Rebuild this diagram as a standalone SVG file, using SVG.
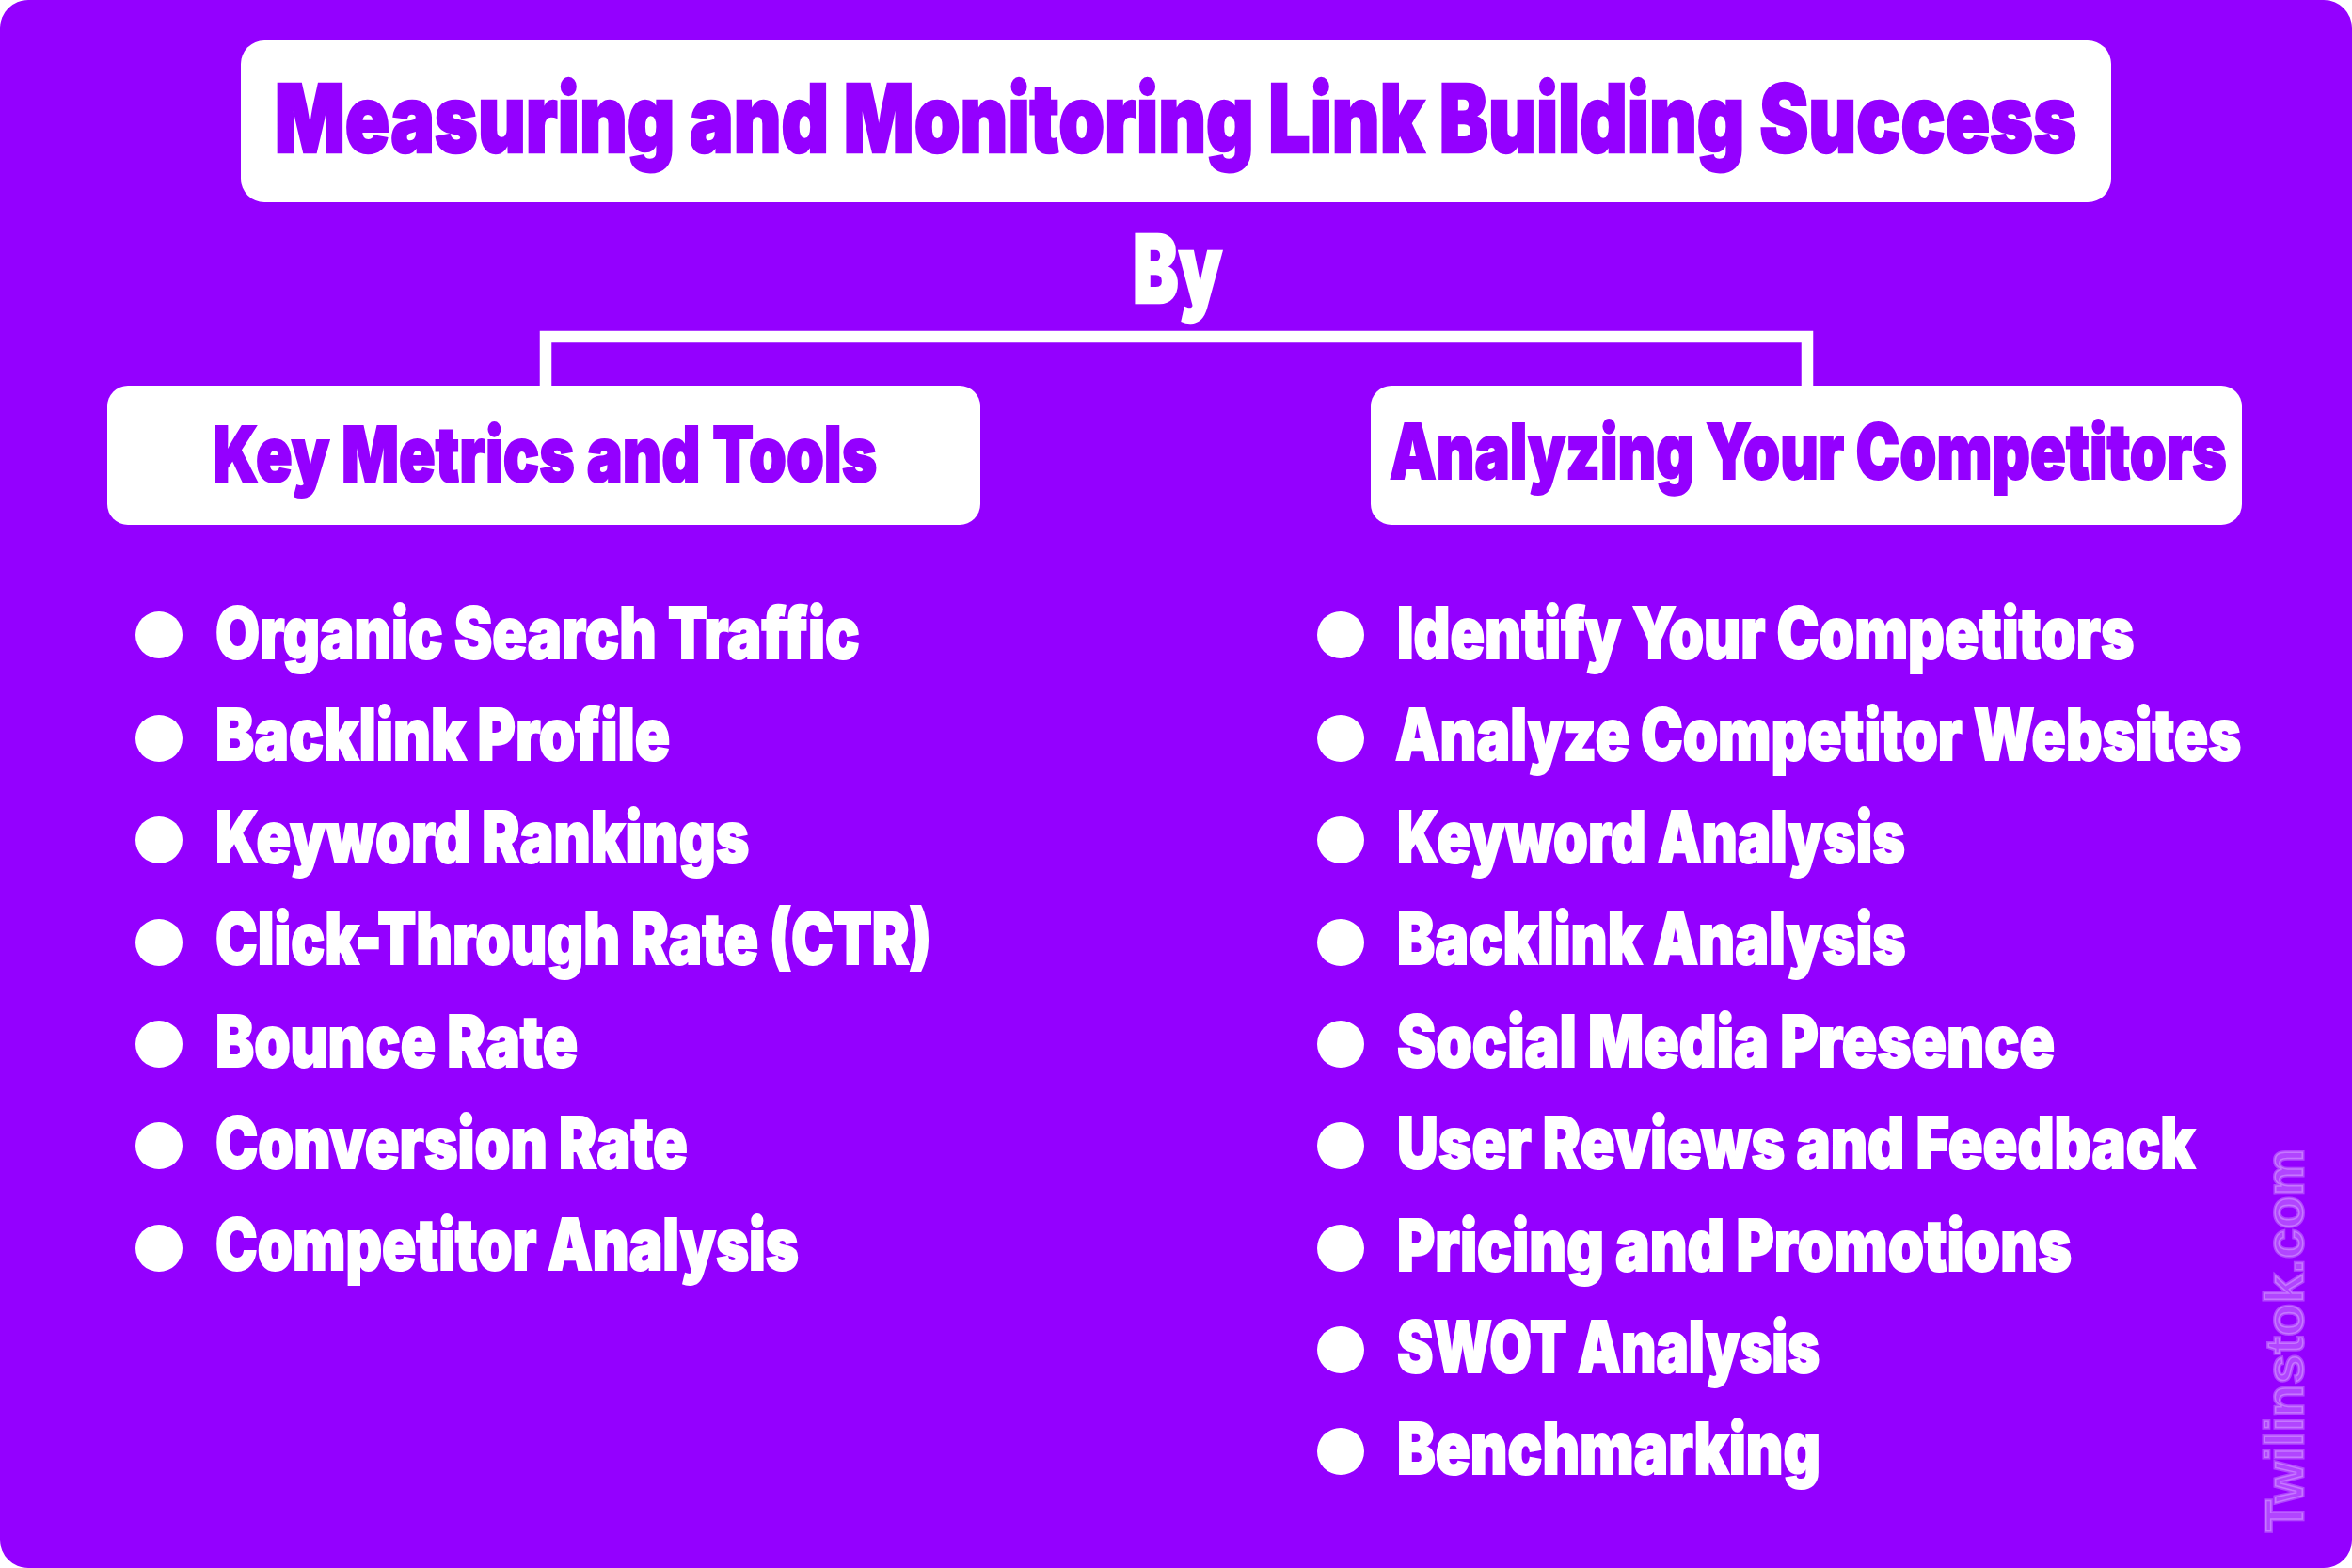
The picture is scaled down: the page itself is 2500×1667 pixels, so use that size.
<svg xmlns="http://www.w3.org/2000/svg" width="2500" height="1667" viewBox="0 0 2500 1667">
<style>
text{font-family:"Inter","Liberation Sans",sans-serif;font-weight:900}
.box{fill:#fff}
.bul{fill:#fff}
.t{font-size:100px;fill:#9400ff;stroke:#9400ff;stroke-width:2.5}
.h{font-size:81.5px;fill:#9400ff;stroke:#9400ff;stroke-width:2}
.by{font-size:100px;fill:#fff;stroke:#fff;stroke-width:2.5}
.i{font-size:76px;fill:#fff;stroke:#fff;stroke-width:2}
.wm{font-family:"Liberation Sans",sans-serif;font-weight:700;font-size:58px;fill:#fff;fill-opacity:.27;stroke:#fff;stroke-opacity:.27;stroke-width:3}
.c{fill:none;stroke:#fff;stroke-width:12.5}
</style>
<rect id="background" width="2500" height="1667" rx="30" fill="#9400ff"/>
<g id="connectors"><path class="c" d="M580 410V358H1921V410"/></g>
<g id="title"><rect class="box" x="256" y="43" width="1988" height="172" rx="25"/><text class="t" transform="translate(292 162) scale(.72 1)" textLength="2660" lengthAdjust="spacingAndGlyphs">Measuring and Monitoring Link Building Success</text></g>
<g id="by"><text class="by" transform="translate(1204 322) scale(.72 1)" textLength="132" lengthAdjust="spacingAndGlyphs">By</text></g>
<g id="left-header"><rect class="box" x="114" y="410" width="928" height="148" rx="22"/><text class="h" transform="translate(226 512) scale(.72 1)" textLength="981" lengthAdjust="spacingAndGlyphs">Key Metrics and Tools</text></g>
<g id="right-header"><rect class="box" x="1457" y="410" width="926" height="148" rx="22"/><text class="h" transform="translate(1477 509) scale(.72 1)" textLength="1236" lengthAdjust="spacingAndGlyphs">Analyzing Your Competitors</text></g>
<g id="l1"><circle class="bul" cx="169" cy="675" r="25"/><text class="i" transform="translate(229 700) scale(.72 1)" textLength="951" lengthAdjust="spacingAndGlyphs">Organic Search Traffic</text></g>
<g id="l2"><circle class="bul" cx="169" cy="785" r="25"/><text class="i" transform="translate(229 808) scale(.72 1)" textLength="671" lengthAdjust="spacingAndGlyphs">Backlink Profile</text></g>
<g id="l3"><circle class="bul" cx="169" cy="893" r="25"/><text class="i" transform="translate(229 917) scale(.72 1)" textLength="788" lengthAdjust="spacingAndGlyphs">Keyword Rankings</text></g>
<g id="l4"><circle class="bul" cx="169" cy="1002" r="25"/><text class="i" transform="translate(229 1025) scale(.72 1)" textLength="1057" lengthAdjust="spacingAndGlyphs">Click-Through Rate (CTR)</text></g>
<g id="l5"><circle class="bul" cx="169" cy="1110" r="25"/><text class="i" transform="translate(229 1134) scale(.72 1)" textLength="535" lengthAdjust="spacingAndGlyphs">Bounce Rate</text></g>
<g id="l6"><circle class="bul" cx="169" cy="1218" r="25"/><text class="i" transform="translate(229 1242) scale(.72 1)" textLength="697" lengthAdjust="spacingAndGlyphs">Conversion Rate</text></g>
<g id="l7"><circle class="bul" cx="169" cy="1327" r="25"/><text class="i" transform="translate(229 1350) scale(.72 1)" textLength="861" lengthAdjust="spacingAndGlyphs">Competitor Analysis</text></g>
<g id="r1"><circle class="bul" cx="1425" cy="675" r="25"/><text class="i" transform="translate(1485 700) scale(.72 1)" textLength="1088" lengthAdjust="spacingAndGlyphs">Identify Your Competitors</text></g>
<g id="r2"><circle class="bul" cx="1425" cy="785" r="25"/><text class="i" transform="translate(1483 808) scale(.72 1)" textLength="1249" lengthAdjust="spacingAndGlyphs">Analyze Competitor Websites</text></g>
<g id="r3"><circle class="bul" cx="1425" cy="893" r="25"/><text class="i" transform="translate(1485 917) scale(.72 1)" textLength="750" lengthAdjust="spacingAndGlyphs">Keyword Analysis</text></g>
<g id="r4"><circle class="bul" cx="1425" cy="1002" r="25"/><text class="i" transform="translate(1485 1025) scale(.72 1)" textLength="751" lengthAdjust="spacingAndGlyphs">Backlink Analysis</text></g>
<g id="r5"><circle class="bul" cx="1425" cy="1110" r="25"/><text class="i" transform="translate(1485 1134) scale(.72 1)" textLength="971" lengthAdjust="spacingAndGlyphs">Social Media Presence</text></g>
<g id="r6"><circle class="bul" cx="1425" cy="1218" r="25"/><text class="i" transform="translate(1485 1242) scale(.72 1)" textLength="1178" lengthAdjust="spacingAndGlyphs">User Reviews and Feedback</text></g>
<g id="r7"><circle class="bul" cx="1425" cy="1327" r="25"/><text class="i" transform="translate(1485 1351) scale(.72 1)" textLength="996" lengthAdjust="spacingAndGlyphs">Pricing and Promotions</text></g>
<g id="r8"><circle class="bul" cx="1425" cy="1435" r="25"/><text class="i" transform="translate(1485 1459) scale(.72 1)" textLength="624" lengthAdjust="spacingAndGlyphs">SWOT Analysis</text></g>
<g id="r9"><circle class="bul" cx="1425" cy="1543" r="25"/><text class="i" transform="translate(1485 1567) scale(.72 1)" textLength="625" lengthAdjust="spacingAndGlyphs">Benchmarking</text></g>
<g id="watermark"><text class="wm" transform="translate(2448 1629) rotate(-90)" textLength="408" lengthAdjust="spacingAndGlyphs">Twilinstok.com</text></g>
</svg>
